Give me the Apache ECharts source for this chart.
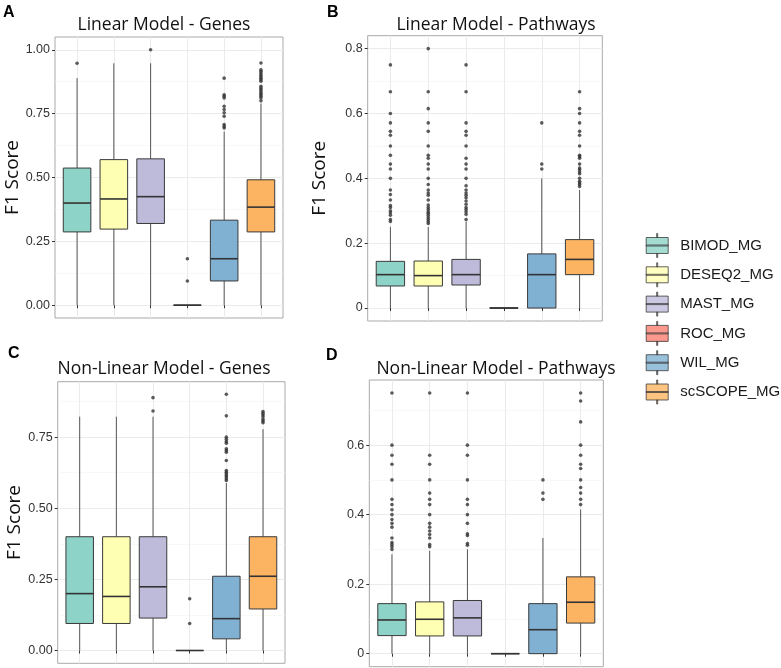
<!DOCTYPE html>
<html>
<head>
<meta charset="utf-8">
<script src="https://cdn.jsdelivr.net/npm/echarts@6/dist/echarts.min.js"></script>
<style>html,body{margin:0;padding:0;background:#fff}#c{width:781px;height:668px}</style>
</head>
<body>
<div id="c"></div>
<script>
// ---------- DATA ----------
const methods = ['BIMOD_MG', 'DESEQ2_MG', 'MAST_MG', 'ROC_MG', 'WIL_MG', 'scSCOPE_MG'];
const panelTitles = ['Linear Model - Genes', 'Linear Model - Pathways', 'Non-Linear Model - Genes', 'Non-Linear Model - Pathways'];
const panelLetters = ['A', 'B', 'C', 'D'];

// [min, Q1, median, Q3, max]
const boxA = [
  [0, 0.287, 0.400, 0.537, 0.889],
  [0, 0.298, 0.416, 0.570, 0.947],
  [0, 0.320, 0.425, 0.573, 0.947],
  [0, 0, 0, 0, 0],
  [0, 0.095, 0.182, 0.333, 0.680],
  [0, 0.287, 0.384, 0.491, 0.789]
];
const outA = [
  [0.947],
  [],
  [1.0],
  [0.182, 0.095],
  [0.889, 0.824, 0.818, 0.811, 0.779, 0.766, 0.753, 0.740, 0.707, 0.700, 0.694],
  [0.948, 0.922, 0.916, 0.909, 0.902, 0.896, 0.889, 0.883, 0.877, 0.857, 0.850, 0.844, 0.837, 0.830, 0.824, 0.818, 0.811, 0.800]
];
const boxB = [
  [0, 0.068, 0.103, 0.144, 0.250],
  [0, 0.068, 0.100, 0.145, 0.250],
  [0, 0.071, 0.103, 0.150, 0.267],
  [0, 0, 0, 0, 0],
  [0, 0, 0.103, 0.167, 0.400],
  [0, 0.103, 0.150, 0.211, 0.364]
];
const outB = [
  [0.75, 0.667, 0.6, 0.571, 0.545, 0.533, 0.5, 0.471, 0.444, 0.429, 0.4, 0.364, 0.35, 0.333, 0.316, 0.31, 0.3, 0.294, 0.286, 0.273, 0.267],
  [0.8, 0.667, 0.615, 0.571, 0.545, 0.5, 0.471, 0.462, 0.444, 0.429, 0.4, 0.381, 0.364, 0.355, 0.348, 0.333, 0.318, 0.31, 0.304, 0.297, 0.292, 0.286, 0.279, 0.273, 0.267, 0.261],
  [0.75, 0.667, 0.571, 0.545, 0.533, 0.5, 0.462, 0.444, 0.429, 0.4, 0.377, 0.364, 0.355, 0.348, 0.34, 0.33, 0.32, 0.31, 0.304, 0.297, 0.289, 0.273],
  [],
  [0.571, 0.444, 0.429],
  [0.667, 0.615, 0.6, 0.571, 0.545, 0.533, 0.5, 0.471, 0.467, 0.462, 0.444, 0.432, 0.427, 0.42, 0.414, 0.4, 0.391, 0.386, 0.381, 0.375]
];
const boxC = [
  [0, 0.095, 0.200, 0.400, 0.822],
  [0, 0.095, 0.190, 0.400, 0.822],
  [0, 0.114, 0.224, 0.400, 0.822],
  [0, 0, 0, 0, 0],
  [0, 0.041, 0.112, 0.261, 0.589],
  [0, 0.146, 0.261, 0.400, 0.778]
];
const outC = [
  [],
  [],
  [0.889, 0.842],
  [0.182, 0.095],
  [0.901, 0.825, 0.75, 0.743, 0.735, 0.729, 0.709, 0.703, 0.697, 0.668, 0.633, 0.627, 0.621, 0.615, 0.61, 0.604, 0.598],
  [0.84, 0.834, 0.828, 0.822, 0.813, 0.807, 0.801]
];
const boxD = [
  [0, 0.052, 0.097, 0.144, 0.286],
  [0, 0.051, 0.099, 0.149, 0.296],
  [0, 0.051, 0.103, 0.153, 0.300],
  [0, 0, 0, 0, 0],
  [0, 0, 0.069, 0.144, 0.333],
  [0, 0.088, 0.148, 0.221, 0.415]
];
const outD = [
  [0.75, 0.6, 0.571, 0.545, 0.5, 0.444, 0.429, 0.414, 0.4, 0.386, 0.375, 0.364, 0.333, 0.32, 0.314, 0.308, 0.3],
  [0.75, 0.571, 0.545, 0.5, 0.462, 0.444, 0.429, 0.4, 0.375, 0.364, 0.353, 0.343, 0.333, 0.314, 0.308],
  [0.75, 0.6, 0.571, 0.5, 0.444, 0.429, 0.4, 0.375, 0.345, 0.34, 0.317, 0.312],
  [],
  [0.5, 0.462, 0.444],
  [0.75, 0.727, 0.667, 0.6, 0.571, 0.545, 0.533, 0.5, 0.478, 0.462, 0.444, 0.429]
];
const ticksGenes = [0, 0.25, 0.5, 0.75, 1.0];
const minorGenes = [0.125, 0.375, 0.625, 0.875];
const ticksPath = [0, 0.2, 0.4, 0.6, 0.8];
const minorPath = [0.1, 0.3, 0.5, 0.7];

// ---------- STYLE / LAYOUT ----------
const colors = ['#8DD3C7', '#FFFFB3', '#BEBADA', '#FB8072', '#80B1D3', '#FDB462'];
const panels = [
  {box: boxA, out: outA, frame: [55, 37, 283, 318], y: [-0.05, 1.05], ticks: ticksGenes, minor: minorGenes, fmt: v => v.toFixed(2), name: 'F1 Score', nameGap: 31, title: [164, 16], letter: [3, 5]},
  {box: boxB, out: outB, frame: [367.7, 35.7, 602.3, 321], y: [-0.04, 0.84], ticks: ticksPath, minor: minorPath, fmt: v => (v === 0 ? '0' : String(v)), name: 'F1 Score', nameGap: 39, title: [496, 16], letter: [327, 4.5]},
  {box: boxC, out: outC, frame: [57.7, 381.7, 285, 663.3], y: [-0.045, 0.945], ticks: ticksGenes.slice(0, 4), minor: minorGenes, fmt: v => v.toFixed(2), name: 'F1 Score', nameGap: 33, title: [164, 360], letter: [8, 345.5]},
  {box: boxD, out: outD, frame: [369.3, 380, 603.3, 666.7], y: [-0.0375, 0.7875], ticks: ticksPath.slice(0, 4), minor: minorPath, fmt: v => (v === 0 ? '0' : String(v)), name: '', nameGap: 40, title: [496, 360], letter: [326, 348]}
];

function renderBox(params, api) {
  const i = api.value(0);
  const c0 = api.coord([i, api.value(1)]);
  const c1 = api.coord([i, api.value(2)]);
  const c2 = api.coord([i, api.value(3)]);
  const c3 = api.coord([i, api.value(4)]);
  const c4 = api.coord([i, api.value(5)]);
  const step = Math.abs(api.coord([1, 0])[0] - api.coord([0, 0])[0]);
  const hw = step * 0.75 / 2;
  const cx = c0[0];
  const col = colors[i];
  const wStyle = {stroke: '#555', lineWidth: 1};
  return {
    type: 'group',
    children: [
      {type: 'line', shape: {x1: cx, y1: c4[1], x2: cx, y2: c3[1]}, style: wStyle},
      {type: 'line', shape: {x1: cx, y1: c1[1], x2: cx, y2: c0[1]}, style: wStyle},
      {type: 'rect', shape: {x: cx - hw, y: c3[1], width: 2 * hw, height: c1[1] - c3[1]}, style: {fill: col, stroke: '#3a3a3a', lineWidth: 1}},
      {type: 'line', shape: {x1: cx - hw, y1: c2[1], x2: cx + hw, y2: c2[1]}, style: {stroke: '#333', lineWidth: 1.6}}
    ]
  };
}

const grids = [], xAxes = [], yAxes = [], series = [], titles = [];
const gridColor = '#ebebeb';
panels.forEach((p, k) => {
  const [x0, y0, x1, y1] = p.frame;
  const step = (x1 - x0) / 6.2;
  const firstC = x0 + 0.6 * step;
  const fg = grids.length;
  grids.push({left: x0, top: y0, width: x1 - x0, height: y1 - y0, show: true, borderColor: '#a9a9a9', borderWidth: 1, backgroundColor: '#fff'});
  grids.push({left: firstC, top: y0, width: 5 * step, height: y1 - y0});
  const fx = xAxes.length;
  xAxes.push({type: 'value', gridIndex: fg, show: false, min: 0, max: 1});
  xAxes.push({
    type: 'category', gridIndex: fg + 1, data: methods, boundaryGap: false,
    axisLine: {show: false}, axisLabel: {show: false, interval: 0},
    axisTick: {show: true, length: 3, interval: 0, lineStyle: {color: '#333'}},
    splitLine: {show: true, interval: 0, lineStyle: {color: gridColor, width: 1}}
  });
  const fy = yAxes.length;
  yAxes.push({
    type: 'value', gridIndex: fg, min: p.y[0], max: p.y[1],
    name: p.name, nameLocation: 'middle', nameGap: p.nameGap, nameRotate: 90,
    nameTextStyle: {fontFamily: 'Open Sans', fontSize: 19, color: '#111'},
    axisLine: {show: false},
    axisTick: {show: true, length: 3, customValues: p.ticks, lineStyle: {color: '#333'}},
    axisLabel: {customValues: p.ticks, formatter: p.fmt, margin: 5, fontFamily: 'Liberation Sans', fontSize: 12.5, color: '#333'},
    splitLine: {show: true, lineStyle: {color: gridColor, width: 1}}
  });
  yAxes.push({
    type: 'value', gridIndex: fg, min: p.y[0], max: p.y[1],
    axisLine: {show: false}, axisLabel: {show: false},
    axisTick: {show: false, customValues: p.minor},
    splitLine: {show: true, lineStyle: {color: '#f4f4f4', width: 0.6}}
  });
  yAxes.push({type: 'value', gridIndex: fg + 1, min: p.y[0], max: p.y[1], show: false});
  series.push({
    type: 'custom', xAxisIndex: fx + 1, yAxisIndex: fy + 2, silent: true, z: 3, clip: false,
    renderItem: renderBox,
    encode: {x: 0, y: [1, 2, 3, 4, 5]},
    data: p.box.map((b, i) => [i].concat(b))
  });
  const pts = [];
  p.out.forEach((arr, i) => arr.forEach(v => pts.push([i, v])));
  series.push({
    type: 'scatter', xAxisIndex: fx + 1, yAxisIndex: fy + 2, silent: true, z: 4,
    symbolSize: 3.6, itemStyle: {color: '#333'}, data: pts
  });
  titles.push({text: panelTitles[k], left: p.title[0], top: p.title[1], textAlign: 'center', padding: 0,
    textStyle: {fontFamily: 'Open Sans', fontWeight: 'normal', fontSize: 17.5, color: '#111'}});
  titles.push({text: panelLetters[k], left: p.letter[0], top: p.letter[1], padding: 0,
    textStyle: {fontFamily: 'Liberation Sans', fontWeight: 'bold', fontSize: 16, color: '#000'}});
});

// dummy series for legend
methods.forEach((m, i) => {
  series.push({type: 'scatter', name: m, xAxisIndex: 1, yAxisIndex: 2, data: [], itemStyle: {color: colors[i]}});
});

const keyIcon = 'path://M0,4 L22,4 L22,20 L0,20 Z M0,11.5 L22,11.5 L22,12.5 L0,12.5 Z M10.5,0 L11.5,0 L11.5,4 L10.5,4 Z M10.5,20 L11.5,20 L11.5,24 L10.5,24 Z';

const option = {
  animation: false,
  backgroundColor: '#fff',
  title: titles,
  grid: grids,
  xAxis: xAxes,
  yAxis: yAxes,
  legend: {
    orient: 'vertical', left: 645.7, top: 233, padding: 0,
    itemWidth: 22, itemHeight: 24, itemGap: 4.3, selectedMode: false,
    textStyle: {fontFamily: 'Liberation Sans', fontSize: 15, color: '#1a1a1a', padding: [0, 0, 0, 7]},
    data: methods.map((m, i) => ({name: m, icon: keyIcon, itemStyle: {color: colors[i], borderColor: '#3c3c3c', borderWidth: 1}}))
  },
  series: series
};
const chart = echarts.init(document.getElementById('c'), null, {renderer: 'canvas'});
chart.setOption(option);
</script>
</body>
</html>
